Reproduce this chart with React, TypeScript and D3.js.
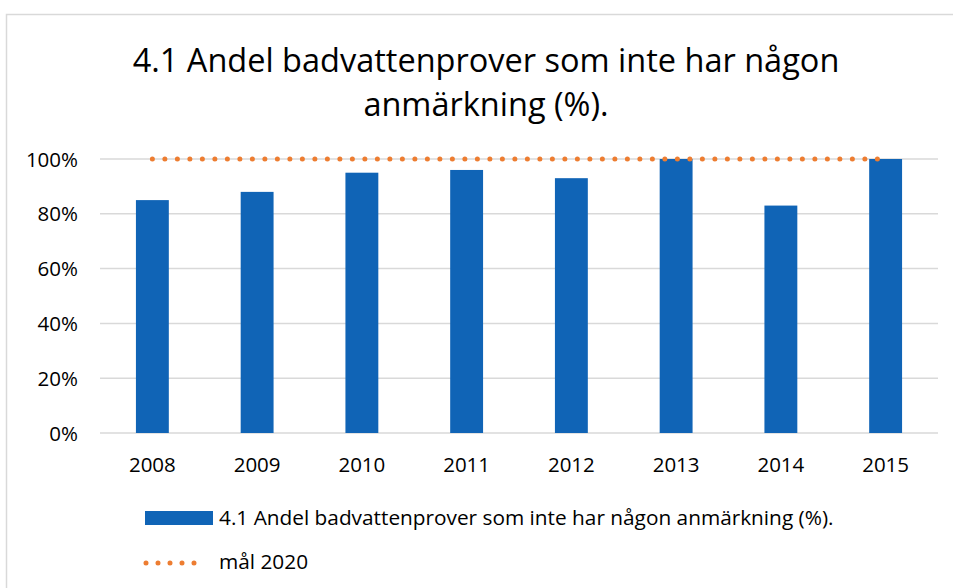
import React, { useEffect, useRef } from "react";
import * as d3 from "d3";

const categories = ["2008", "2009", "2010", "2011", "2012", "2013", "2014", "2015"];
const values = [85, 88, 95, 96, 93, 100, 83, 100];
const targetValues = [100, 100, 100, 100, 100, 100, 100, 100];
const yTicks = [0, 20, 40, 60, 80, 100];
const titleLines = ["4.1 Andel badvattenprover som inte har någon", "anmärkning (%)."];
const seriesName = "4.1 Andel badvattenprover som inte har någon anmärkning (%).";
const targetName = "mål 2020";

const W = 953;
const H = 588;
const FONT = "'Open Sans', sans-serif";

export default function App() {
  const ref = useRef<SVGSVGElement | null>(null);

  useEffect(() => {
    const svg = d3.select(ref.current);
    svg.selectAll("*").remove();

    const left = 100, right = 938, top = 159, bottom = 433;
    const x = d3.scaleBand<string>().domain(categories).range([left, right]).paddingInner(0.686).paddingOuter(0.343);
    const y = d3.scaleLinear().domain([0, 100]).range([bottom, top]);

    svg.append("rect").attr("x", 0).attr("y", 0).attr("width", W).attr("height", H).attr("fill", "#fff");
    svg.append("rect").attr("x", 6.5).attr("y", 14.5).attr("width", 960).attr("height", 600)
      .attr("fill", "none").attr("stroke", "#d9d9d9").attr("stroke-width", 1.5);

    // title
    const t = svg.append("text").attr("text-anchor", "middle").attr("font-family", FONT)
      .attr("font-size", 32.5).attr("fill", "#000");
    titleLines.forEach((l, i) => {
      t.append("tspan").attr("x", 486).attr("y", 72 + i * 44).text(l);
    });

    // gridlines
    svg.append("g").selectAll("line").data(yTicks).join("line")
      .attr("x1", left).attr("x2", right)
      .attr("y1", d => y(d)).attr("y2", d => y(d))
      .attr("stroke", "#d9d9d9").attr("stroke-width", 1.5);

    // y labels
    svg.append("g").selectAll("text").data(yTicks).join("text")
      .attr("x", 78).attr("y", d => y(d) + 7.5)
      .attr("text-anchor", "end").attr("font-family", FONT).attr("font-size", 20.5).attr("fill", "#000")
      .text(d => d + "%");

    // bars
    svg.append("g").selectAll("rect").data(values).join("rect")
      .attr("x", (d, i) => x(categories[i])!)
      .attr("width", x.bandwidth())
      .attr("y", d => y(d))
      .attr("height", d => bottom - y(d))
      .attr("fill", "#1064B6");

    // target line
    const line = d3.line<number>()
      .x((d, i) => x(categories[i])! + x.bandwidth() / 2)
      .y(d => y(d));
    svg.append("path").attr("d", line(targetValues)!)
      .attr("fill", "none").attr("stroke", "#ED7D31").attr("stroke-width", 5)
      .attr("stroke-linecap", "round").attr("stroke-dasharray", "0 12.5");

    // x labels
    svg.append("g").selectAll("text").data(categories).join("text")
      .attr("x", d => x(d)! + x.bandwidth() / 2).attr("y", 472)
      .attr("text-anchor", "middle").attr("font-family", FONT).attr("font-size", 20.5).attr("fill", "#000")
      .text(d => d);

    // legend
    svg.append("rect").attr("x", 145).attr("y", 511).attr("width", 68).attr("height", 14).attr("fill", "#1064B6");
    svg.append("text").attr("x", 219).attr("y", 525)
      .attr("font-family", FONT).attr("font-size", 20.8).attr("fill", "#000").text(seriesName);
    svg.append("line").attr("x1", 146).attr("x2", 206).attr("y1", 563).attr("y2", 563)
      .attr("stroke", "#ED7D31").attr("stroke-width", 5).attr("stroke-linecap", "round")
      .attr("stroke-dasharray", "0 12");
    svg.append("text").attr("x", 219).attr("y", 569)
      .attr("font-family", FONT).attr("font-size", 20.8).attr("fill", "#000").text(targetName);
  }, []);

  return (
    <svg ref={ref} width={W} height={H} style={{ position: "absolute", left: 0, top: 0, display: "block" }} />
  );
}
